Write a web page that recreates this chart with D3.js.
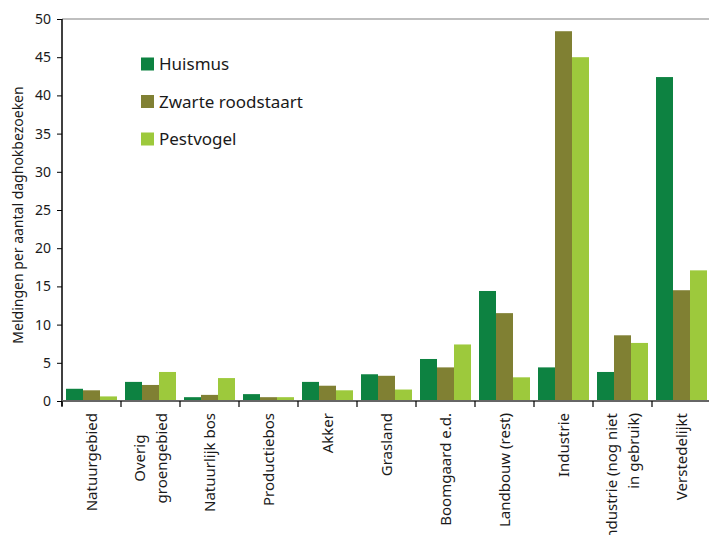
<!DOCTYPE html>
<html><head><meta charset="utf-8">
<script src="https://cdn.jsdelivr.net/npm/d3@7/dist/d3.min.js"></script>
<style>body{margin:0;background:#fff}svg{display:block;font-family:"Noto Sans",sans-serif}</style>
</head><body><svg id="c" width="709" height="535"></svg>
<script>
const categories = [["Natuurgebied"],["Overig","groengebied"],["Natuurlijk bos"],["Productiebos"],["Akker"],["Grasland"],["Boomgaard e.d."],["Landbouw (rest)"],["Industrie"],["Industrie (nog niet","in gebruik)"],["Verstedelijkt"]];
const seriesNames = ["Huismus","Zwarte roodstaart","Pestvogel"];
const huismus = [1.6,2.5,0.5,0.9,2.5,3.5,5.5,14.4,4.4,3.8,42.4];
const zwarteRoodstaart = [1.4,2.1,0.8,0.5,2.0,3.3,4.4,11.5,48.4,8.6,14.5];
const pestvogel = [0.6,3.8,3.0,0.5,1.4,1.5,7.4,3.1,45.0,7.6,17.1];
const yTicks = [0,5,10,15,20,25,30,35,40,45,50];
const colors = ["#0d8241","#808033","#9dc93c"];
const yTitle = "Meldingen per aantal daghokbezoeken";

const series = [huismus, zwarteRoodstaart, pestvogel];
const svg = d3.select("#c");
const x0 = 62, x1 = 711, yTop = 19, yBot = 401;
const x = d3.scaleBand().domain(d3.range(categories.length)).range([x0, x1]).paddingInner(0).paddingOuter(0);
const inner = d3.scaleBand().domain(d3.range(3)).range([4, x.bandwidth()-4]);
const y = d3.scaleLinear().domain([0,50]).range([yBot, yTop]);

// top gridline
svg.append("line").attr("x1",x0).attr("x2",709).attr("y1",y(50)).attr("y2",y(50)).attr("stroke","#bfbfbf").attr("stroke-width",2);

// bars
categories.forEach((c,i)=>{
  series.forEach((s,j)=>{
    svg.append("rect").attr("x",x(i)+inner(j)).attr("width",inner.bandwidth())
      .attr("y",y(s[i])).attr("height",y(0)-y(s[i])).attr("fill",colors[j]);
  });
});

// y axis
const yAxis = d3.axisLeft(y).tickValues(yTicks).tickSize(5).tickPadding(6);
const gy = svg.append("g").attr("transform",`translate(${x0},0)`).call(yAxis);
gy.select(".domain").attr("stroke","#000").attr("stroke-width",1.5).attr("d",`M0,${yTop}V${yBot+5}`);
gy.selectAll(".tick line").attr("stroke","#000");
gy.selectAll(".tick text").attr("font-size",14).attr("fill","#1a1a1a").attr("font-family","'Noto Sans',sans-serif");

// x axis line
svg.append("line").attr("x1",x0).attr("x2",709).attr("y1",yBot).attr("y2",yBot).attr("stroke","#666").attr("stroke-width",2);
// x ticks at boundaries
d3.range(categories.length+1).forEach(i=>{
  const xv = i<categories.length ? x(i) : x1;
  svg.append("line").attr("x1",xv).attr("x2",xv).attr("y1",yBot).attr("y2",yBot+6).attr("stroke","#000").attr("stroke-width",1.2);
});

// x labels
const labTop = 413, boxW = 95, lh = 22;
categories.forEach((lines,i)=>{
  const cx = x(i)+x.bandwidth()/2;
  const n = lines.length;
  const g = svg.append("g");
  const texts = lines.map((t,k)=>{
    const xl = cx + (k-(n-1)/2)*lh;
    return g.append("text").attr("transform",`translate(${xl+5},0) rotate(-90)`)
      .attr("font-size",15).attr("fill","#1a1a1a").text(t);
  });
  const widths = texts.map(t=>t.node().getComputedTextLength());
  if(n===1){
    texts[0].attr("text-anchor","end").attr("x",-labTop);
  } else {
    const fit = widths.filter(w=>w<=boxW);
    const bw = fit.length? d3.max(fit): boxW;
    texts.forEach((t,k)=>{
      if(widths[k]<=boxW) t.attr("text-anchor","middle").attr("x",-(labTop+bw/2));
      else t.attr("text-anchor","end").attr("x",-labTop);
    });
  }
});

// y title
svg.append("text").attr("transform",`translate(23,215) rotate(-90)`).attr("text-anchor","middle")
  .attr("font-size",14).attr("fill","#1a1a1a").text(yTitle);

// legend
seriesNames.forEach((nm,j)=>{
  const ly = 64 + j*37.5;
  svg.append("rect").attr("x",141).attr("y",ly-6.5).attr("width",13).attr("height",13).attr("fill",colors[j]);
  svg.append("text").attr("x",159).attr("y",ly+6).attr("font-size",17).attr("fill","#1a1a1a").text(nm);
});
</script></body></html>
